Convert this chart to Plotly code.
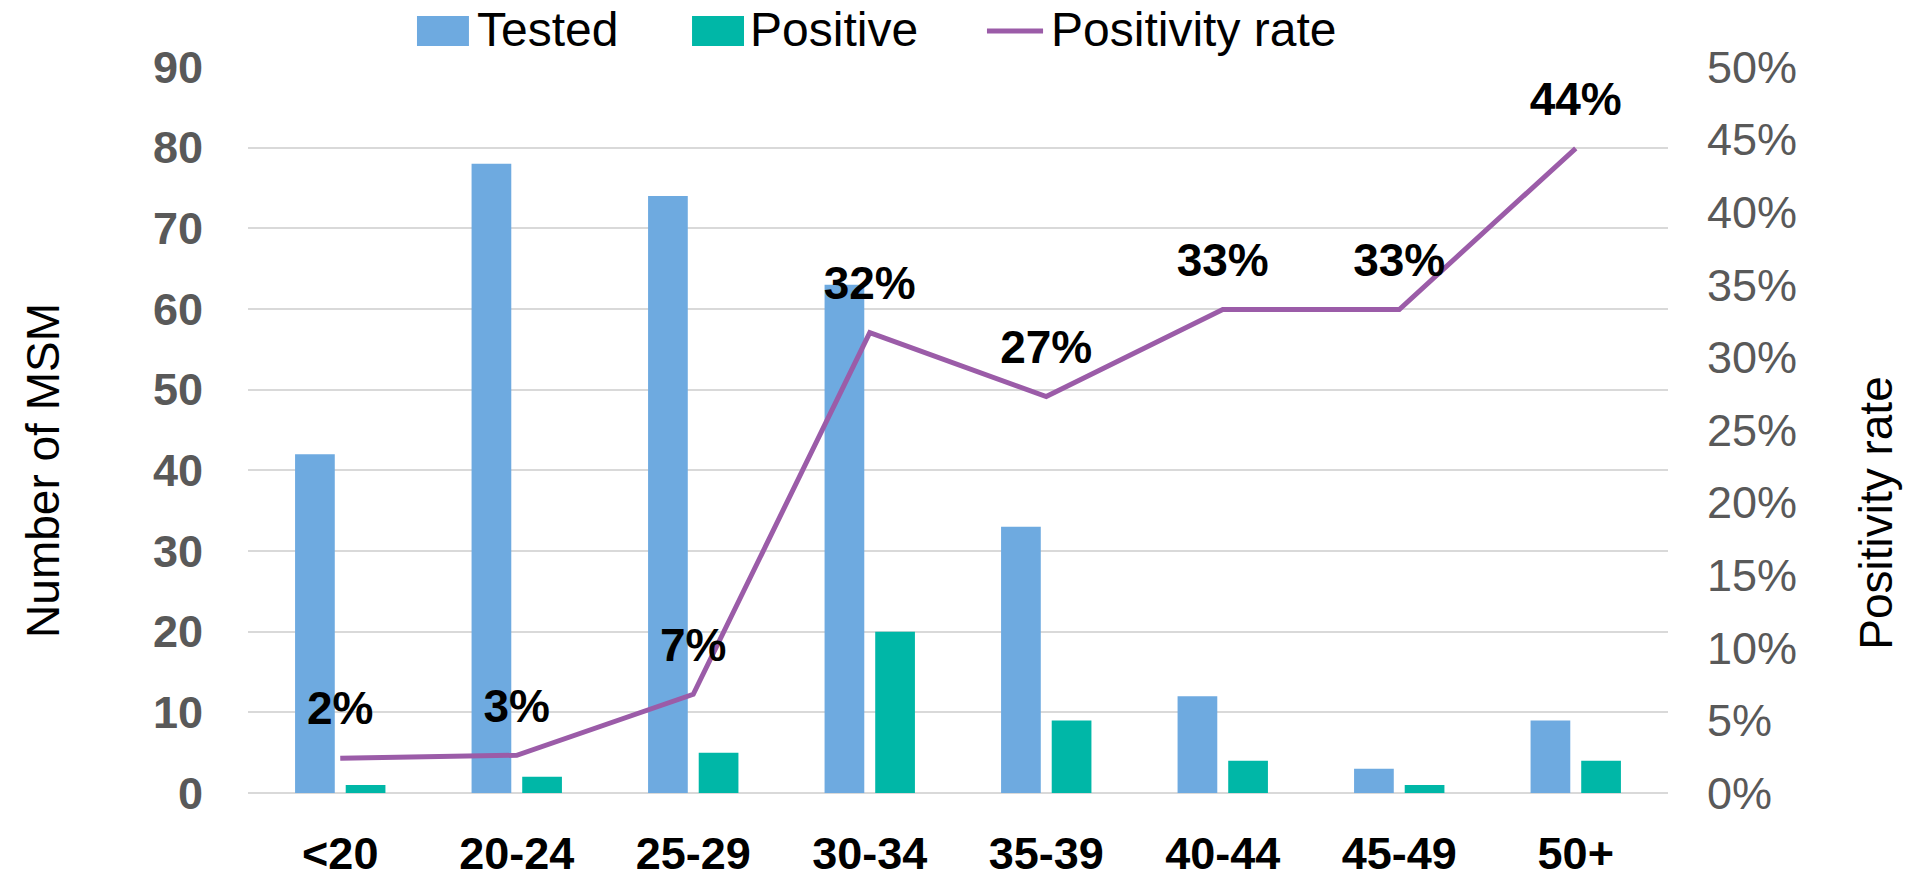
import plotly.graph_objects as go

age_groups = ["<20", "20-24", "25-29", "30-34", "35-39", "40-44", "45-49", "50+"]
tested = [42, 78, 74, 63, 33, 12, 3, 9]
positive = [1, 2, 5, 20, 9, 4, 1, 4]
positivity_rate = [0.024, 0.026, 0.068, 0.317, 0.273, 0.333, 0.333, 0.444]

left_ticks = [0, 10, 20, 30, 40, 50, 60, 70, 80, 90]
right_ticks = [0, 0.05, 0.10, 0.15, 0.20, 0.25, 0.30, 0.35, 0.40, 0.45, 0.50]

FONT = "Liberation Sans, Arial, sans-serif"
GRAY = "#595959"
C_TESTED = "#6EAAE0"
C_POS = "#00B7A7"
C_RATE = "#9B5CA8"

fig = go.Figure()
fig.add_trace(go.Bar(
    x=age_groups, y=tested, name="Tested",
    marker=dict(color=C_TESTED, line=dict(width=0)),
))
fig.add_trace(go.Bar(
    x=age_groups, y=positive, name="Positive",
    marker=dict(color=C_POS, line=dict(width=0)),
))
fig.add_trace(go.Scatter(
    x=age_groups, y=positivity_rate, name="Positivity rate",
    yaxis="y2", mode="lines+markers+text",
    line=dict(color=C_RATE, width=5),
    marker=dict(size=34, opacity=0, color=C_RATE),
    texttemplate="%{y:.0%}", textposition="top center",
    textfont=dict(family=FONT, size=46, color="black", weight="bold"),
    cliponaxis=False,
))

# Custom legend (swatches + labels) drawn in paper coordinates
legend_shapes = [
    dict(type="rect", xref="paper", yref="paper", x0=0.1190, x1=0.1556,
         y0=1.0289, y1=1.0702, fillcolor=C_TESTED, line=dict(width=0)),
    dict(type="rect", xref="paper", yref="paper", x0=0.3127, x1=0.3493,
         y0=1.0289, y1=1.0702, fillcolor=C_POS, line=dict(width=0)),
    dict(type="line", xref="paper", yref="paper", x0=0.5204, x1=0.5599,
         y0=1.0496, y1=1.0496, line=dict(color=C_RATE, width=5)),
]
legend_labels = [
    dict(text="Tested", x=0.1599),
    dict(text="Positive", x=0.3521),
    dict(text="Positivity rate", x=0.5641),
]
legend_annotations = [
    dict(text=l["text"], xref="paper", yref="paper", x=l["x"], y=1.0510,
         xanchor="left", yanchor="middle", showarrow=False,
         font=dict(family=FONT, size=48, color="black"))
    for l in legend_labels
]

fig.update_layout(
    width=1916, height=881,
    margin=dict(l=248, r=248, t=67, b=88, autoexpand=False),
    paper_bgcolor="white", plot_bgcolor="white",
    font=dict(family=FONT, color="black"),
    barmode="group", bargap=0.426, bargroupgap=0.216,
    showlegend=False,
    xaxis=dict(
        type="category", categoryorder="array", categoryarray=age_groups,
        showgrid=False, showline=False, zeroline=False,
        ticks="", ticklabelstandoff=30,
        tickfont=dict(family=FONT, size=45, color="black", weight="bold"),
        automargin=False,
    ),
    yaxis=dict(
        range=[0, 90], tickvals=left_ticks, showgrid=True,
        gridcolor="#D9D9D9", gridwidth=2, zeroline=True, zerolinecolor="#D9D9D9",
        zerolinewidth=2, showline=False, ticks="", ticklabelstandoff=44,
        tickfont=dict(family=FONT, size=45, color=GRAY, weight="bold"),
        automargin=False,
    ),
    yaxis2=dict(
        range=[0, 0.5], tickvals=right_ticks, tickformat=".0%",
        overlaying="y", side="right", showgrid=False, zeroline=False,
        showline=False, ticks="", ticklabelstandoff=38,
        tickfont=dict(family=FONT, size=45, color=GRAY),
        automargin=False,
    ),
    shapes=legend_shapes,
    annotations=[
        dict(text="Number of MSM", xref="paper", yref="paper", x=-0.1444, y=0.445,
             textangle=-90, showarrow=False, xanchor="center", yanchor="middle",
             font=dict(family=FONT, size=46, color="black")),
        dict(text="Positivity rate", xref="paper", yref="paper", x=1.1465, y=0.386,
             textangle=-90, showarrow=False, xanchor="center", yanchor="middle",
             font=dict(family=FONT, size=46, color="black")),
    ] + legend_annotations,
)

fig.write_html("out.html")
